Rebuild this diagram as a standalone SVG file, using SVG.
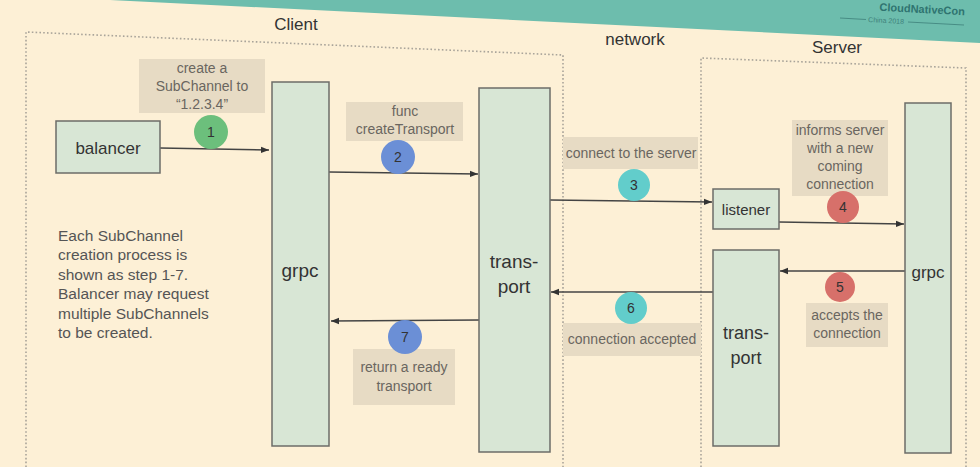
<svg xmlns="http://www.w3.org/2000/svg" width="980" height="467" viewBox="0 0 980 467">
<defs>
<marker id="ah" viewBox="0 0 10 10" refX="10" refY="5" markerWidth="8" markerHeight="8" markerUnits="userSpaceOnUse" orient="auto"><path d="M0,1 L10,5 L0,9 z" fill="#333"/></marker>
<style>
.bg{fill:#fdf0d6}
.band{fill:#6dbdad}
.frame{fill:none;stroke:#a9a49a;stroke-width:1.6;stroke-dasharray:1.6 2.2}
.node{fill:#d8e6d5;stroke:#6c6c68;stroke-width:1.5}
.lbl{fill:#e7dbc4}
.ntext{font-family:"Liberation Sans",Arial,sans-serif;fill:#333;text-anchor:middle}
.ltext{font-family:"Liberation Sans",Arial,sans-serif;font-size:14px;fill:#6a6660;text-anchor:middle}
.title{font-family:"Liberation Sans",Arial,sans-serif;font-size:17px;fill:#333;text-anchor:middle}
.num{font-family:"Liberation Sans",Arial,sans-serif;font-size:14px;fill:#333;text-anchor:middle}
.conn{stroke:#444;stroke-width:1.5;fill:none;marker-end:url(#ah)}
.note{font-family:"Liberation Sans",Arial,sans-serif;font-size:15.5px;fill:#555}
</style>
</defs>
<rect class="bg" x="0" y="0" width="980" height="467"/>
<polygon class="band" points="110,0 980,0 980,43"/>
<g id="banner">
<text x="922" y="13" font-family="Liberation Sans,Arial,sans-serif" font-size="11" font-weight="bold" fill="#2f7470" text-anchor="middle" transform="rotate(3 922 13)">CloudNativeCon</text>
<text x="886" y="23" font-family="Liberation Sans,Arial,sans-serif" font-size="7" fill="#3e807a" text-anchor="middle" transform="rotate(3 886 23)">China 2018</text>
<line x1="840" y1="18" x2="866" y2="19.5" stroke="#3e807a" stroke-width="0.8"/>
<line x1="908" y1="22" x2="964" y2="25" stroke="#3e807a" stroke-width="0.8"/>
</g>
<g id="frames">
<path class="frame" d="M26,467 L26,32 L563,55 L563,467"/>
<path class="frame" d="M701,467 L701,58 L966,68 L966,467"/>
</g>
<text class="title" x="296" y="30">Client</text>
<text class="title" x="635" y="45" font-size="15">network</text>
<text class="title" x="837" y="53" font-size="15">Server</text>

<g id="labels">
<rect class="lbl" x="139" y="59" width="126" height="54"/>
<text class="ltext" x="202" y="73" font-size="15">create a</text>
<text class="ltext" x="202" y="91" font-size="15">SubChannel to</text>
<text class="ltext" x="202" y="109" font-size="15">“1.2.3.4”</text>
<rect class="lbl" x="346" y="102" width="117" height="39"/>
<text class="ltext" x="405" y="116">func</text>
<text class="ltext" x="405" y="134">createTransport</text>
<rect class="lbl" x="563" y="137" width="135" height="32"/>
<text class="ltext" x="631" y="158">connect to the server</text>
<rect class="lbl" x="792" y="120" width="96" height="76"/>
<text class="ltext" x="840" y="135" font-size="13.5">informs server</text>
<text class="ltext" x="840" y="153" font-size="13.5">with a new</text>
<text class="ltext" x="840" y="171" font-size="13.5">coming</text>
<text class="ltext" x="840" y="189" font-size="13.5">connection</text>
<rect class="lbl" x="806" y="303" width="82" height="44"/>
<text class="ltext" x="847" y="320" font-size="13.5">accepts the</text>
<text class="ltext" x="847" y="338" font-size="13.5">connection</text>
<rect class="lbl" x="563" y="323" width="138" height="33"/>
<text class="ltext" x="632" y="344">connection accepted</text>
<rect class="lbl" x="353" y="349" width="102" height="56"/>
<text class="ltext" x="404" y="372">return a ready</text>
<text class="ltext" x="404" y="391">transport</text>
</g>

<g id="connectors">
<line class="conn" x1="160" y1="148" x2="269" y2="150"/>
<line class="conn" x1="329" y1="172" x2="478" y2="174"/>
<line class="conn" x1="550" y1="200" x2="712" y2="202"/>
<line class="conn" x1="779" y1="222" x2="904" y2="224"/>
<line class="conn" x1="905" y1="271" x2="780" y2="271"/>
<line class="conn" x1="713" y1="292" x2="551" y2="292"/>
<line class="conn" x1="479" y1="320" x2="331" y2="321"/>
</g>

<g id="steps">
<circle cx="211" cy="132" r="17" fill="#6cbf7c"/><text class="num" x="211" y="137">1</text>
<circle cx="398" cy="157" r="17" fill="#6b8fd6"/><text class="num" x="398" y="162">2</text>
<circle cx="634" cy="185" r="16" fill="#62cdcb"/><text class="num" x="634" y="190">3</text>
<circle cx="843" cy="207" r="16" fill="#d7706a"/><text class="num" x="843" y="212">4</text>
<circle cx="840" cy="287" r="15" fill="#d7706a"/><text class="num" x="840" y="292">5</text>
<circle cx="631" cy="308" r="16" fill="#62cdcb"/><text class="num" x="631" y="313">6</text>
<circle cx="405" cy="337" r="17" fill="#6b8fd6"/><text class="num" x="405" y="342">7</text>
</g>

<g id="balancer">
<rect class="node" x="56" y="121" width="104" height="52"/>
<text class="ntext" x="108" y="154" font-size="17">balancer</text>
</g>
<g id="client-grpc">
<rect class="node" x="272" y="82" width="57" height="364"/>
<text class="ntext" x="300" y="277" font-size="19">grpc</text>
</g>
<g id="client-transport">
<rect class="node" x="479" y="88" width="71" height="364"/>
<text class="ntext" x="514" y="268" font-size="19">trans-</text>
<text class="ntext" x="514" y="293" font-size="19">port</text>
</g>
<g id="listener">
<rect class="node" x="713" y="189" width="66" height="40"/>
<text class="ntext" x="746" y="215" font-size="15">listener</text>
</g>
<g id="server-transport">
<rect class="node" x="713" y="250" width="66" height="196"/>
<text class="ntext" x="746" y="339" font-size="18">trans-</text>
<text class="ntext" x="746" y="364" font-size="18">port</text>
</g>
<g id="server-grpc">
<rect class="node" x="905" y="103" width="46" height="350"/>
<text class="ntext" x="928" y="278" font-size="17">grpc</text>
</g>

<g id="note">
<text class="note" x="58" y="241">Each SubChannel</text>
<text class="note" x="58" y="260">creation process is</text>
<text class="note" x="58" y="280">shown as step 1-7.</text>
<text class="note" x="58" y="299">Balancer may request</text>
<text class="note" x="58" y="319">multiple SubChannels</text>
<text class="note" x="58" y="338">to be created.</text>
</g>
</svg>
